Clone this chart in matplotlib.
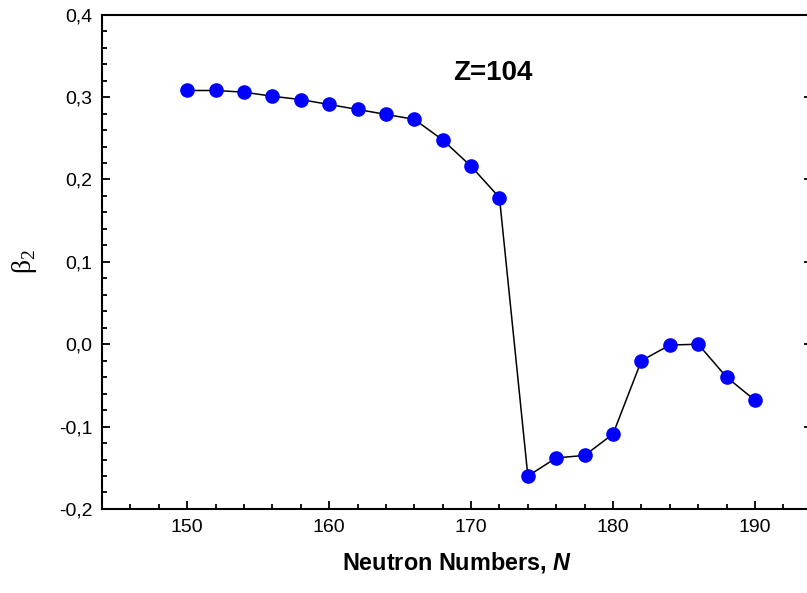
import matplotlib
matplotlib.use('Agg')
import matplotlib.pyplot as plt
from matplotlib.ticker import MultipleLocator, FuncFormatter

# Datos: deformación beta2 para Z=104
neutrons = [150, 152, 154, 156, 158, 160, 162, 164, 166, 168, 170,
            172, 174, 176, 178, 180, 182, 184, 186, 188, 190]
beta2 = [0.308, 0.308, 0.306, 0.301, 0.297, 0.291, 0.285, 0.279, 0.273, 0.248, 0.216,
         0.178, -0.160, -0.138, -0.135, -0.109, -0.020, -0.001, 0.000, -0.040, -0.068]

plt.rcParams['font.family'] = ['Liberation Sans', 'DejaVu Sans']
plt.rcParams['mathtext.fontset'] = 'custom'
plt.rcParams['mathtext.rm'] = 'Liberation Serif'
plt.rcParams['mathtext.bfit'] = 'Liberation Sans:bold:italic'

fig = plt.figure(figsize=(8.07, 5.93), dpi=100)
ax = fig.add_axes([0.1264, 0.1417, 0.8795, 0.8335])

ax.plot(neutrons, beta2, color='black', lw=1.1, marker='o',
        markersize=9.5, markerfacecolor='#0000ff', markeredgecolor='#0000ff')

ax.set_xlim(144, 194)
ax.set_ylim(-0.2, 0.4)
ax.xaxis.set_major_locator(MultipleLocator(10))
ax.xaxis.set_minor_locator(MultipleLocator(2))
ax.yaxis.set_major_locator(MultipleLocator(0.1))
ax.yaxis.set_minor_locator(MultipleLocator(0.02))


def coma(v, pos):
    s = f"{v:.1f}"
    if s == "-0.0":
        s = "0.0"
    return s.replace('.', ',')


ax.yaxis.set_major_formatter(FuncFormatter(coma))

ax.tick_params(which='both', direction='in', top=False, right=True,
               labelsize=14, width=1.3, pad=7)
ax.tick_params(which='major', length=5.5)
ax.tick_params(which='minor', length=3.5)
for sp in ax.spines.values():
    sp.set_linewidth(1.5)
ax.spines['right'].set_visible(False)

ax.set_xlabel(r'Neutron Numbers, $\mathbfit{N}$', fontsize=16.8, fontweight='bold', labelpad=10)
ax.set_ylabel(r'$\mathrm{\beta}_\mathrm{2}$', fontsize=20, labelpad=14)

fig.text(493 / 807, 1 - 73 / 593, 'Z=104', fontsize=20, fontweight='bold',
         ha='center', va='center')

fig.savefig('out.png', dpi=100)
